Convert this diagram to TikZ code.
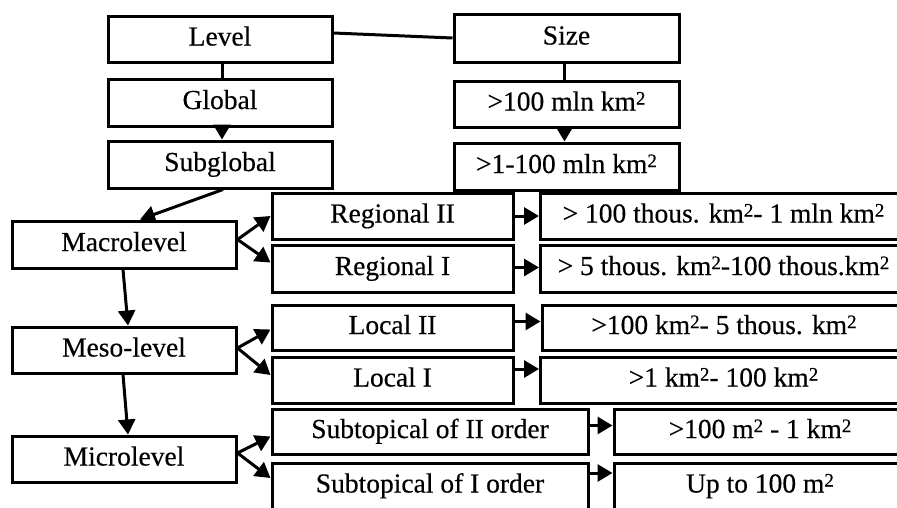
\documentclass[tikz,border=0pt]{standalone}
\usepackage{fontspec}
\setmainfont{Liberation Serif}[FakeBold=0.4]
\usetikzlibrary{arrows.meta}
\newcommand{\suptwo}{\raisebox{6pt}{\fontsize{19}{19}\selectfont 2}}
\begin{document}
\begin{tikzpicture}[x=1pt,y=-1pt,
  box/.style={draw,line width=3pt,inner sep=0pt,align=center,
    font=\fontsize{27.5}{32}\selectfont,text height=19pt,text depth=6pt},
  conn/.style={line width=3pt},
  arr/.style={line width=3pt,-{Triangle[length=15pt,width=17pt]}}]
\path[use as bounding box] (0,0) rectangle (897,507);
\clip (0,0) rectangle (897,507);
% left column
\node[box,minimum width=224pt,minimum height=46pt] (level) at (220,39) {Level};
\node[box,minimum width=224pt,minimum height=47pt] (global) at (220,102.5) {Global};
\node[box,minimum width=224pt,minimum height=47pt] (subglobal) at (220,164.5) {Subglobal};
\node[box,minimum width=225pt,minimum height=48pt] (size) at (566.5,38) {Size};
\node[box,minimum width=225pt,minimum height=46pt] (s1) at (566.5,104) {>100 mln km\suptwo};
\node[box,minimum width=225pt,minimum height=47pt] (s2) at (566.5,166.5) {>1-100 mln km\suptwo};
\node[box,minimum width=224pt,minimum height=47pt] (macro) at (124,244.5) {Macrolevel};
\node[box,minimum width=224pt,minimum height=46pt] (meso) at (124,350) {Meso-level};
\node[box,minimum width=224pt,minimum height=46pt] (micro) at (124,459) {Microlevel};
% middle column
\node[box,minimum width=241pt,minimum height=46pt] (reg2) at (392.5,216) {Regional II};
\node[box,minimum width=241pt,minimum height=47pt] (reg1) at (392.5,268.5) {Regional I};
\node[box,minimum width=241pt,minimum height=45pt] (loc2) at (392.5,327.5) {Local II};
\node[box,minimum width=241pt,minimum height=46pt] (loc1) at (392.5,380) {Local I};
\node[box,minimum width=316pt,minimum height=45pt] (sub2) at (430,431.5) {Subtopical of II order};
\node[box,minimum width=316pt,minimum height=46pt] (sub1) at (430,486) {Subtopical of I order};
% right column
\node[box,minimum width=366pt,minimum height=46pt] (r2) at (723.5,216) {> 100 thous. km\suptwo- 1 mln km\suptwo};
\node[box,minimum width=366pt,minimum height=47pt] (r1) at (723.5,268.5) {> 5 thous. km\suptwo-100 thous.km\suptwo};
\node[box,minimum width=364pt,minimum height=45pt] (l2) at (724,327.5) {>100 km\suptwo- 5 thous. km\suptwo};
\node[box,minimum width=366pt,minimum height=46pt] (l1) at (723.5,380) {>1 km\suptwo- 100 km\suptwo};
\node[box,minimum width=292pt,minimum height=45pt] (t2) at (760,431.5) {>100 m\suptwo{} - 1 km\suptwo};
\node[box,minimum width=292pt,minimum height=46pt] (t1) at (760,486) {Up to 100 m\suptwo};
% connectors
\draw[conn] ([yshift=6pt]level.east) -- (size.west);
\draw[conn] ([xshift=2pt]level.south) -- ([xshift=2pt]global.north);
\draw[arr] ([xshift=2pt]global.south) -- ([xshift=2pt]subglobal.north);
\draw[conn] ([xshift=-2pt]size.south) -- ([xshift=-2pt]s1.north);
\draw[arr] ([xshift=-2pt]s1.south) -- ([xshift=-2pt]s2.north);
\draw[arr] ([xshift=3pt]subglobal.south) -- ([xshift=16pt]macro.north);
\coordinate (mc) at ([yshift=5pt]macro.east);
\draw[arr] (mc) -- (reg2.west);
\draw[arr] (mc) -- ([yshift=6pt]reg1.west);
\draw[arr] ([xshift=-1pt]macro.south) -- ([xshift=4pt]meso.north);
\coordinate (ms) at ([yshift=2pt]meso.east);
\draw[arr] (ms) -- ([yshift=-2pt]loc2.west);
\draw[arr] (ms) -- ([yshift=5pt]loc1.west);
\draw[arr] ([xshift=-1pt]meso.south) -- ([xshift=4pt]micro.north);
\coordinate (mi) at ([yshift=6pt]micro.east);
\draw[arr] (mi) -- ([yshift=-5pt]sub2.west);
\draw[arr] (mi) -- ([yshift=8pt]sub1.west);
\draw[arr] (reg2.east) -- (r2.west);
\draw[arr] ([yshift=1pt]reg1.east) -- ([yshift=1pt]r1.west);
\draw[arr] ([yshift=6pt]loc2.east) -- ([yshift=6pt]l2.west);
\draw[arr] ([yshift=11pt]loc1.east) -- ([yshift=11pt]l1.west);
\draw[arr] ([yshift=6pt]sub2.east) -- ([yshift=6pt]t2.west);
\draw[arr] ([yshift=13pt]sub1.east) -- ([yshift=13pt]t1.west);
\end{tikzpicture}
\end{document}
